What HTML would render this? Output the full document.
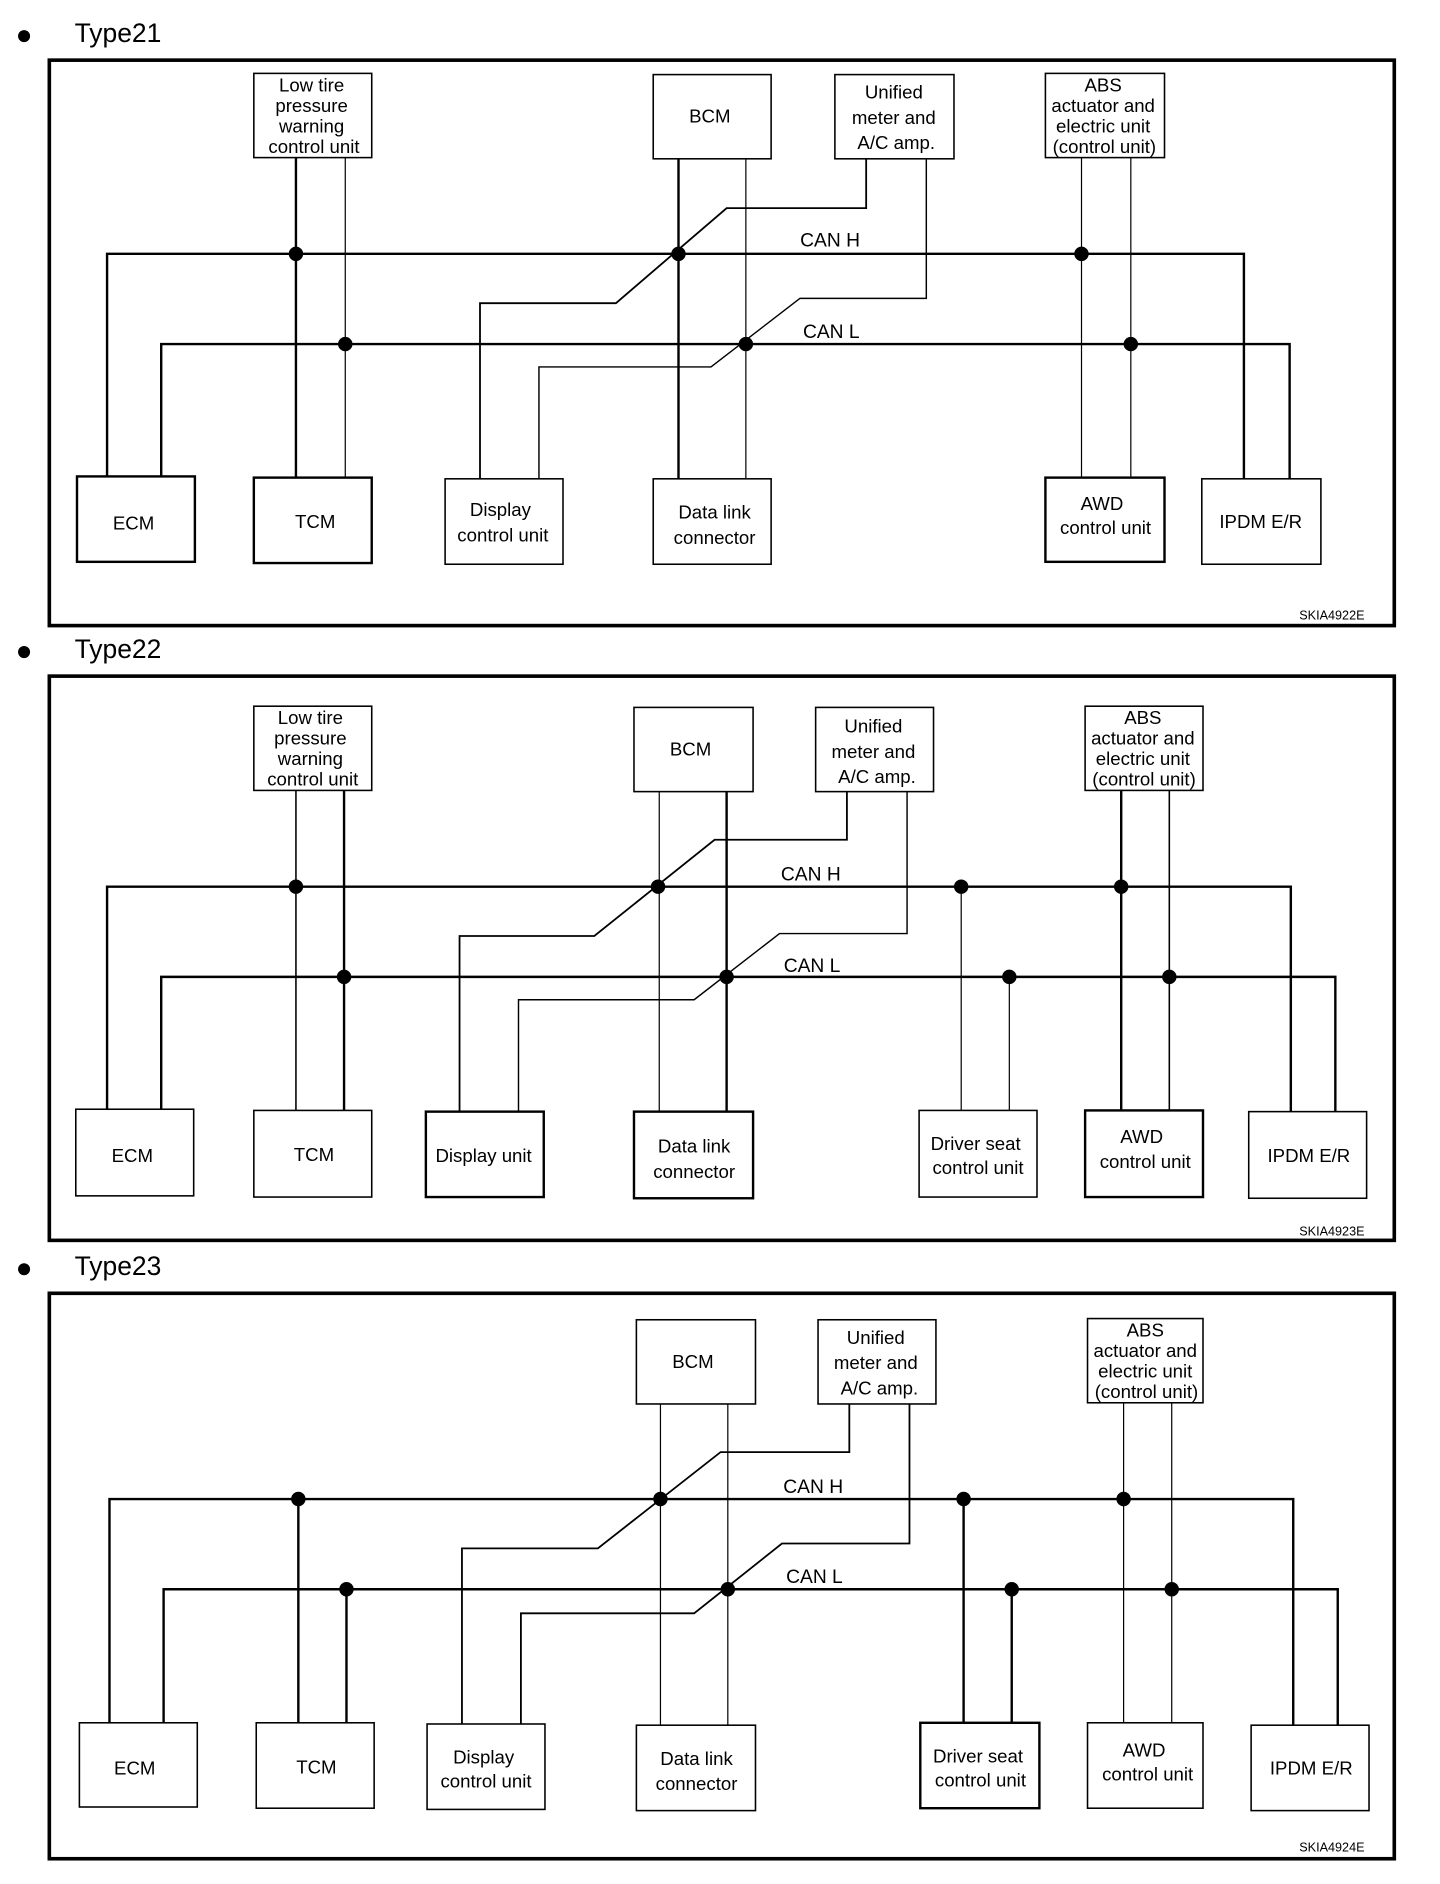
<!DOCTYPE html>
<html><head><meta charset="utf-8"><style>
html,body{margin:0;padding:0;background:#fff}
svg{display:block}
text{font-family:"Liberation Sans",sans-serif;fill:#000}
</style></head><body>
<svg width="1440" height="1884" viewBox="0 0 1197 1566" preserveAspectRatio="none" xmlns="http://www.w3.org/2000/svg">
<g fill="none" stroke="#000">
<!-- ===== Type21 ===== -->
<rect x="41" y="50" width="1118" height="470" stroke-width="3"/>
<g stroke-width="1.3">
<rect x="211" y="61" width="98" height="70"/>
<rect x="543" y="62" width="98" height="70"/>
<rect x="694" y="62" width="99" height="70"/>
<rect x="869" y="61" width="99" height="70"/>
<rect x="64" y="396" width="98" height="71" stroke-width="2"/>
<rect x="211" y="397" width="98" height="71" stroke-width="2"/>
<rect x="370" y="398" width="98" height="71"/>
<rect x="543" y="398" width="98" height="71"/>
<rect x="869" y="397" width="99" height="70" stroke-width="2"/>
<rect x="999" y="398" width="99" height="71"/>
</g>
<polyline points="89,396 89,211 1034,211 1034,398" stroke-width="2"/>
<polyline points="134,396 134,286 1072,286 1072,398" stroke-width="2"/>
<line x1="246" y1="131" x2="246" y2="397" stroke-width="2"/>
<line x1="287" y1="131" x2="287" y2="397" stroke-width="1"/>
<line x1="564" y1="132" x2="564" y2="398" stroke-width="2"/>
<line x1="620" y1="132" x2="620" y2="398" stroke-width="1"/>
<polyline points="720,132 720,173 604,173 512,252 399,252 399,398" stroke-width="1.5"/>
<polyline points="770,132 770,248 665,248 591,305 448,305 448,398" stroke-width="1.2"/>
<line x1="899" y1="131" x2="899" y2="397" stroke-width="1"/>
<line x1="940" y1="131" x2="940" y2="397" stroke-width="1"/>

<!-- ===== Type22 ===== -->
<rect x="41" y="562" width="1118" height="469" stroke-width="3"/>
<g stroke-width="1.3">
<rect x="211" y="587" width="98" height="70"/>
<rect x="527" y="588" width="99" height="70"/>
<rect x="678" y="588" width="98" height="70"/>
<rect x="902" y="587" width="98" height="70"/>
<rect x="63" y="922" width="98" height="72"/>
<rect x="211" y="923" width="98" height="72"/>
<rect x="354" y="924" width="98" height="71" stroke-width="2"/>
<rect x="527" y="924" width="99" height="72" stroke-width="2"/>
<rect x="764" y="923" width="98" height="72"/>
<rect x="902" y="923" width="98" height="72" stroke-width="2"/>
<rect x="1038" y="924" width="98" height="72"/>
</g>
<polyline points="89,922 89,737 1073,737 1073,924" stroke-width="2"/>
<polyline points="134,922 134,812 1110,812 1110,924" stroke-width="2"/>
<line x1="246" y1="657" x2="246" y2="923" stroke-width="1.3"/>
<line x1="286" y1="657" x2="286" y2="923" stroke-width="2"/>
<line x1="548" y1="658" x2="548" y2="924" stroke-width="1"/>
<line x1="604" y1="658" x2="604" y2="924" stroke-width="2"/>
<polyline points="704,658 704,698 594,698 494,778 382,778 382,924" stroke-width="1.5"/>
<polyline points="754,658 754,776 648,776 577,831 431,831 431,924" stroke-width="1.2"/>
<line x1="799" y1="737" x2="799" y2="923" stroke-width="1"/>
<line x1="839" y1="812" x2="839" y2="923" stroke-width="1"/>
<line x1="932" y1="657" x2="932" y2="923" stroke-width="2"/>
<line x1="972" y1="657" x2="972" y2="923" stroke-width="1.3"/>

<!-- ===== Type23 ===== -->
<rect x="41" y="1075" width="1118" height="470" stroke-width="3"/>
<g stroke-width="1.3">
<rect x="529" y="1097" width="99" height="70"/>
<rect x="680" y="1097" width="98" height="70"/>
<rect x="904" y="1096" width="96" height="70"/>
<rect x="66" y="1432" width="98" height="70"/>
<rect x="213" y="1432" width="98" height="71"/>
<rect x="355" y="1433" width="98" height="71"/>
<rect x="529" y="1434" width="99" height="71"/>
<rect x="765" y="1432" width="99" height="71" stroke-width="2"/>
<rect x="904" y="1432" width="96" height="71"/>
<rect x="1040" y="1434" width="98" height="71"/>
</g>
<polyline points="91,1432 91,1246 1075,1246 1075,1434" stroke-width="2"/>
<polyline points="136,1432 136,1321 1112,1321 1112,1434" stroke-width="2"/>
<line x1="248" y1="1246" x2="248" y2="1432" stroke-width="2"/>
<line x1="288" y1="1321" x2="288" y2="1432" stroke-width="2"/>
<line x1="549" y1="1167" x2="549" y2="1434" stroke-width="1"/>
<line x1="605" y1="1167" x2="605" y2="1434" stroke-width="1"/>
<polyline points="706,1167 706,1207 599,1207 497,1287 384,1287 384,1433" stroke-width="1.5"/>
<polyline points="756,1167 756,1283 650,1283 577,1341 433,1341 433,1433" stroke-width="1.5"/>
<line x1="801" y1="1246" x2="801" y2="1432" stroke-width="2"/>
<line x1="841" y1="1321" x2="841" y2="1432" stroke-width="2"/>
<line x1="934" y1="1166" x2="934" y2="1432" stroke-width="1"/>
<line x1="974" y1="1166" x2="974" y2="1432" stroke-width="1"/>
</g>

<g fill="#000">
<circle cx="20" cy="30" r="5"/><circle cx="20" cy="542" r="5"/><circle cx="20" cy="1055" r="5"/>
<circle cx="246" cy="211" r="6"/><circle cx="287" cy="286" r="6"/><circle cx="564" cy="211" r="6"/><circle cx="620" cy="286" r="6"/><circle cx="899" cy="211" r="6"/><circle cx="940" cy="286" r="6"/>
<circle cx="246" cy="737" r="6"/><circle cx="286" cy="812" r="6"/><circle cx="547" cy="737" r="6"/><circle cx="604" cy="812" r="6"/><circle cx="799" cy="737" r="6"/><circle cx="839" cy="812" r="6"/><circle cx="932" cy="737" r="6"/><circle cx="972" cy="812" r="6"/>
<circle cx="248" cy="1246" r="6"/><circle cx="288" cy="1321" r="6"/><circle cx="549" cy="1246" r="6"/><circle cx="605" cy="1321" r="6"/><circle cx="801" cy="1246" r="6"/><circle cx="841" cy="1321" r="6"/><circle cx="934" cy="1246" r="6"/><circle cx="974" cy="1321" r="6"/>
</g>

<g font-size="22">
<text x="62" y="35">Type21</text>
<text x="62" y="547">Type22</text>
<text x="62" y="1060">Type23</text>
</g>
<g font-size="10.5">
<text x="1080" y="515">SKIA4922E</text>
<text x="1080" y="1027">SKIA4923E</text>
<text x="1080" y="1539">SKIA4924E</text>
</g>
<g font-size="16" text-anchor="middle">
<text x="690" y="205">CAN H</text><text x="691" y="281">CAN L</text>
<text x="674" y="732">CAN H</text><text x="675" y="808">CAN L</text>
<text x="676" y="1241">CAN H</text><text x="677" y="1316">CAN L</text>
</g>
<g font-size="15.5" text-anchor="middle">
<text x="259" y="76">Low tire</text><text x="259" y="93">pressure</text><text x="259" y="110">warning</text><text x="261" y="127">control unit</text>
<text x="590" y="102">BCM</text>
<text x="743" y="82">Unified</text><text x="743" y="103">meter and</text><text x="745" y="124">A/C amp.</text>
<text x="917" y="76">ABS</text><text x="917" y="93">actuator and</text><text x="917" y="110">electric unit</text><text x="918" y="127">(control unit)</text>
<text x="111" y="440">ECM</text><text x="262" y="439">TCM</text>
<text x="416" y="429">Display</text><text x="418" y="450">control unit</text>
<text x="594" y="431">Data link</text><text x="594" y="452">connector</text>
<text x="916" y="424">AWD</text><text x="919" y="444">control unit</text>
<text x="1048" y="439">IPDM E/R</text>
<text x="258" y="602">Low tire</text><text x="258" y="619">pressure</text><text x="258" y="636">warning</text><text x="260" y="653">control unit</text>
<text x="574" y="628">BCM</text>
<text x="726" y="609">Unified</text><text x="726" y="630">meter and</text><text x="729" y="651">A/C amp.</text>
<text x="950" y="602">ABS</text><text x="950" y="619">actuator and</text><text x="950" y="636">electric unit</text><text x="951" y="653">(control unit)</text>
<text x="110" y="966">ECM</text><text x="261" y="965">TCM</text>
<text x="402" y="966">Display unit</text>
<text x="577" y="958">Data link</text><text x="577" y="979">connector</text>
<text x="811" y="956">Driver seat</text><text x="813" y="976">control unit</text>
<text x="949" y="950">AWD</text><text x="952" y="971">control unit</text>
<text x="1088" y="966">IPDM E/R</text>
<text x="576" y="1137">BCM</text>
<text x="728" y="1117">Unified</text><text x="728" y="1138">meter and</text><text x="731" y="1159">A/C amp.</text>
<text x="952" y="1111">ABS</text><text x="952" y="1128">actuator and</text><text x="952" y="1145">electric unit</text><text x="953" y="1162">(control unit)</text>
<text x="112" y="1475">ECM</text><text x="263" y="1474">TCM</text>
<text x="402" y="1466">Display</text><text x="404" y="1486">control unit</text>
<text x="579" y="1467">Data link</text><text x="579" y="1488">connector</text>
<text x="813" y="1465">Driver seat</text><text x="815" y="1485">control unit</text>
<text x="951" y="1460">AWD</text><text x="954" y="1480">control unit</text>
<text x="1090" y="1475">IPDM E/R</text>
</g>
</svg>
</body></html>
